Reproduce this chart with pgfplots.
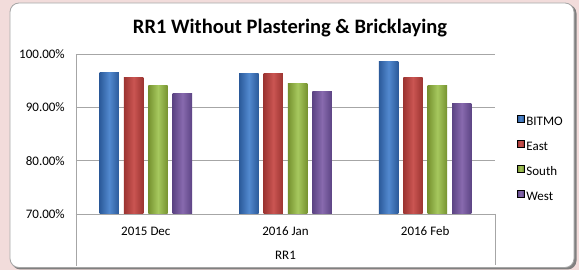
\documentclass[border=0pt]{standalone}
\usepackage{fontspec}
\setmainfont{Carlito}
\usepackage{pgfplots}
\pgfplotsset{compat=1.18}
\definecolor{bgpink}{HTML}{F2DCDB}
\definecolor{bE}{HTML}{2B5A9A}\definecolor{bM}{HTML}{5289CF}
\definecolor{rE}{HTML}{9C3431}\definecolor{rM}{HTML}{CA5552}
\definecolor{gE}{HTML}{76922F}\definecolor{gM}{HTML}{A6C85E}
\definecolor{pE}{HTML}{5C4484}\definecolor{pM}{HTML}{886AAE}
\definecolor{gridc}{HTML}{A6A6A6}
\pgfplotsset{
  sqleg/.style={legend image code/.code={\fill[##1] (0pt,0pt) rectangle (7pt,7pt);}},
  barb/.style={ybar, bar width=19.4pt, draw=none, forget plot},
  sB/.style={left color=bE, right color=bE, middle color=bM},
  sE/.style={left color=rE, right color=rE, middle color=rM},
  sS/.style={left color=gE, right color=gE, middle color=gM},
  sW/.style={left color=pE, right color=pE, middle color=pM},
}
\begin{document}
\begin{tikzpicture}[x=1pt,y=1pt]
\begin{scope}[shift={(-76pt,-56pt)}]
\fill[bgpink] (0,0) rectangle (579,270);
\fill[black!50, rounded corners=9pt] (11.5,0.5) rectangle (576.5,265.5);
\fill[white, draw=black!35, line width=0.8pt, rounded corners=9pt] (10,2.5) rectangle (574,267);
\node[font=\fontsize{20.5}{24}\selectfont\bfseries] at (290,241.5) {RR1 Without Plastering \& Bricklaying};
\draw[gridc, line width=0.8pt] (76,56) -- (76,3.5);
\draw[gridc, line width=0.8pt] (495,56) -- (495,4.5);
\end{scope}
\begin{axis}[
  scale only axis, width=419pt, height=160pt,
  xmin=-0.5, xmax=2.5, ymin=70, ymax=100,
  xtick={0,1,2}, xticklabels={2015 Dec,2016 Jan,2016 Feb},
  ytick={70,80,90,100}, yticklabels={70.00\%,80.00\%,90.00\%,100.00\%},
  axis lines*=left, axis line style={draw=gridc, line width=0.8pt},
  xtick style={draw=none}, ytick style={draw=none},
  ymajorgrids, grid style={gridc, line width=0.8pt},
  tick label style={font=\fontsize{13}{15}\selectfont},
  xticklabel style={anchor=base, yshift=-22pt},
  yticklabel style={xshift=-7.7pt},
  xlabel={RR1},
  every axis x label/.style={at={(axis description cs:0.5,0)}, anchor=base, yshift=-46pt, font=\fontsize{13}{15}\selectfont},
  legend style={draw=none, fill=none, at={(axis description cs:1.0525,0.6175)}, anchor=north west,
    inner sep=0pt, outer sep=0pt, column sep=2pt, row sep=12.3pt,
    font=\fontsize{13}{15}\selectfont,
    nodes={text height=9pt, text depth=2pt, inner sep=0pt}},
  legend cell align=left,
]
% BITMO
\addplot[barb, sB, bar shift=-36.6pt] coordinates {(0,96.44)};
\addplot[barb, sB, bar shift=-36.6pt] coordinates {(1,96.25)};
\addplot[barb, sB, bar shift=-36.6pt] coordinates {(2,98.5)};
% East
\addplot[barb, sE, bar shift=-12.2pt] coordinates {(0,95.5)};
\addplot[barb, sE, bar shift=-12.2pt] coordinates {(1,96.38)};
\addplot[barb, sE, bar shift=-12.2pt] coordinates {(2,95.56)};
% South
\addplot[barb, sS, bar shift=12.2pt] coordinates {(0,94.0)};
\addplot[barb, sS, bar shift=12.2pt] coordinates {(1,94.38)};
\addplot[barb, sS, bar shift=12.2pt] coordinates {(2,94.0)};
% West
\addplot[barb, sW, bar shift=36.6pt] coordinates {(0,92.5)};
\addplot[barb, sW, bar shift=36.6pt] coordinates {(1,92.88)};
\addplot[barb, sW, bar shift=36.6pt] coordinates {(2,90.75)};
\addlegendimage{sqleg, sB}\addlegendentry{BITMO}
\addlegendimage{sqleg, sE}\addlegendentry{East}
\addlegendimage{sqleg, sS}\addlegendentry{South}
\addlegendimage{sqleg, sW}\addlegendentry{West}
\end{axis}
\pgfresetboundingbox
\useasboundingbox (-76pt,-56pt) rectangle (503pt,214pt);
\end{tikzpicture}
\end{document}
